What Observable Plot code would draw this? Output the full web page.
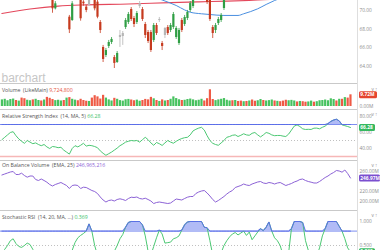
<!DOCTYPE html>
<html><head><meta charset="utf-8">
<script src="https://cdn.jsdelivr.net/npm/d3@7"></script>
<script src="https://cdn.jsdelivr.net/npm/@observablehq/plot@0.6"></script>
<style>
html,body{margin:0;padding:0;background:#fff;overflow:hidden;width:380px;height:250px;}
#wrap{position:relative;width:380px;height:250px;overflow:hidden;font-family:"Open Sans",sans-serif;}
.panel{position:absolute;left:0;}
.hline{position:absolute;left:0;width:357px;height:1px;background:#c9c9c9;}
.vline{position:absolute;left:357px;top:0;width:1px;height:250px;background:#dedede;}
</style></head><body><div id="wrap"></div>
<script>
// ---------- data ----------
const candleDay   = [18,19,24,25,28,29,30,31,33,34,35,36,37,38,39,40,41,42,43,44,45,46,47,48,49,50,51,52,53,54,55,56,57,58,59,60,61,62,63,64,65,66,67,68,73,74,75,76,77,78,79];
const candleOpen  = [71.30,70.22,69.31,68.95,71.30,70.94,70.40,70.58,71.40,70.94,68.74,66.03,65.16,66.14,66.57,64.94,64.40,67.11,67.54,68.19,68.74,70.14,69.17,68.74,70.47,70.14,68.52,67.65,67.65,66.79,68.41,69.06,66.46,68.09,68.19,67.87,68.19,67.11,66.46,68.95,68.52,69.17,70.04,70.47,71.30,71.40,68.19,67.87,68.63,68.95,70.25];
const candleHigh  = [71.50,71.00,69.50,71.00,71.50,71.10,70.60,71.50,71.60,71.20,68.95,66.25,65.92,66.79,67.11,65.16,65.59,67.87,67.76,69.17,69.82,70.36,69.39,69.93,71.01,70.36,68.74,67.87,67.87,68.63,68.63,69.28,66.68,68.19,68.41,68.63,69.82,68.30,68.09,69.17,69.50,70.04,71.01,71.50,71.50,71.60,68.41,68.63,69.28,69.71,71.50];
const candleLow   = [69.74,70.10,67.54,68.85,68.88,70.50,69.80,70.50,70.00,69.14,67.54,64.40,64.94,65.92,66.35,63.75,64.30,66.03,66.25,67.98,68.52,68.85,68.19,68.52,70.25,68.85,67.00,66.46,65.49,66.57,67.33,68.74,65.70,67.00,67.33,67.65,67.98,66.90,66.25,67.65,68.30,68.95,69.82,70.25,70.69,68.85,67.00,67.54,68.41,68.74,70.04];
const candleClose = [70.22,70.76,67.94,70.76,69.14,70.76,70.04,71.30,70.22,69.31,67.87,64.73,65.70,66.57,66.90,64.30,65.38,67.33,67.22,68.95,69.60,69.06,68.52,69.71,70.79,69.06,67.33,66.68,65.70,68.41,67.54,68.95,66.14,67.33,67.54,68.41,69.60,68.09,67.87,67.87,69.28,69.82,70.79,71.30,70.90,69.06,67.54,68.41,69.06,69.50,71.30];
const candleColor = ["r","g","r","g","r","r","r","n","r","r","r","r","g","g","g","r","g","n","n","g","g","r","r","g","n","r","r","r","r","g","r","n","r","n","r","g","g","g","g","r","g","g","g","g","r","r","r","g","g","g","g"];

const redMaDay = [0,10,20,30,45,60,70,80,88,100,124];
const redMaVal = [69.71,70.20,70.52,70.65,70.74,70.90,70.98,71.05,71.12,71.30,71.60];
const blueMaDay = [45,52,57,62,65,67,71,74,79,84,86,91,94,97,105,124];
const blueMaVal = [72.6,71.8,71.18,70.58,70.10,69.85,69.68,69.60,69.50,69.50,69.68,70.22,70.69,71.12,71.9,73.2];

const priceTicks = [64,66,68,70];

const volume = [5.5,6.0,4.8,5.8,6.2,5.0,4.5,7.0,6.5,5.2,4.8,5.5,6.0,5.0,4.6,5.4,7.6,6.8,5.8,4.9,5.2,4.6,5.0,7.0,7.4,6.0,5.3,4.8,6.0,5.0,4.4,4.2,7.0,9.0,8.0,6.2,9.3,7.0,5.5,4.6,6.8,6.0,4.9,4.5,5.6,5.9,5.4,4.8,5.3,4.4,5.0,5.9,5.5,7.6,6.4,5.0,4.2,5.5,4.6,5.0,6.0,8.0,6.6,5.6,5.0,5.2,5.8,6.2,5.5,4.8,5.2,6.0,4.6,6.5,13.9,5.8,4.9,5.5,6.0,6.6,5.2,4.6,4.8,5.0,4.2,4.5,4.0,4.2,4.6,5.4,4.4,4.8,5.8,5.0,4.6,4.9,5.4,4.6,4.3,4.0,4.5,5.2,4.8,5.1,4.6,3.8,4.2,4.0,3.6,3.8,4.5,3.6,4.0,4.8,5.0,5.4,4.8,6.4,5.8,4.6,6.0,6.0,7.4,7.0,9.7248];
const volColor = ["g","g","g","g","g","r","g","r","r","g","g","r","g","g","r","g","r","r","r","g","g","g","r","g","r","g","g","r","r","r","r","g","r","r","r","r","r","g","g","g","r","g","g","g","g","g","r","r","g","g","r","r","r","r","g","r","g","r","g","r","g","g","g","g","r","g","g","g","g","g","g","g","r","r","r","r","g","g","g","g","g","g","r","g","r","r","g","r","g","r","r","g","g","r","g","g","g","r","g","r","r","r","g","g","g","r","g","r","r","g","g","r","g","g","g","g","g","g","g","r","g","r","g","r","r"];

const rsi = [51,54,57,60,61,56,52,49,46.5,50,48,46,47,45,43.5,45,42,40,42.5,42,41,41.5,38,35.5,33,40,43.5,42,44,46.5,43,44,43.5,42.5,41,37,34,31.5,33.5,35.5,38,40.5,43.5,45.5,48,49,50,49.5,50,48,51,54,51,47,44,47.5,46,43.8,47,50,48,46.6,49,51,52.5,53.5,54,57,62,64,65.5,66.5,63,56,50,46.5,45,44,47,50,54,55,56.5,57,55,56.5,58.4,57,56.5,59,60,57,54.5,57,60,59,57,56,56.3,56.3,55.5,55,58,63,68,69.5,67.5,64.6,63.8,64,63.8,65.4,65.5,64.6,66.5,68,71,73.8,75.5,76.6,74.5,69.5,68.5,67.5,66.28];
const rsiTicks = [40,60,80];

const obv = [253,255,257,259,260,254,254,256.6,252,248.6,251,251,244,242,245,242,238.6,234,231,234,236,238,235,232,226,232,233,232,226,228.6,228,225,222,220,216,209,203,199,202,203,201,204,205.4,204,202,206,208.6,208,209,206,205,206.6,204,201,196,198,199,198,197,196,197,201,205,204,203,206,208.6,210,210,216,219,221,222,217,211,204,199,202,206,210,215,219,222,228,230,232,235,233,232,235,237,239,240,237,236,238,237,235,237,238,235,232,234,236,239,241,244,245,242,240,238.6,237,237,240,244,248,251,255,258,262,261,258.6,263,256,246.965216];
const obvTicks = [200,220,260];

const stoch = [0.35,0.42,0.5,0.6,0.64,0.54,0.48,0.46,0.5,0.55,0.52,0.42,0.3,0.22,0.15,0.1,0.05,0.02,0.0,0.05,0.08,0.05,0.1,0.2,0.3,0.4,0.56,0.66,0.71,0.75,0.8,0.95,0.8,0.5,0.3,0.15,0.05,0.0,0.1,0.25,0.38,0.5,0.64,0.73,0.88,0.98,1,1,1,1,0.93,0.7,0.38,0.3,0.48,0.66,0.82,0.74,0.55,0.56,0.57,0.64,0.66,0.7,0.82,0.93,0.99,1,1,1,1,1,0.88,0.87,0.6,0.3,0.2,0.25,0.35,0.5,0.6,0.68,0.74,0.77,0.72,0.76,0.8,0.71,0.78,0.62,0.7,0.78,0.85,0.81,0.88,0.99,0.8,0.66,0.6,0.5,0.3,0.2,0.35,0.85,1,1,1,0.98,0.6,0.4,0.25,0.2,0.28,0.45,0.7,0.85,1,1,1,1,0.9,0.8,0.64,0.45,0.369];
const stochTicks = [0.5,1.0];

// ---------- helpers ----------
const C = {green:"#2f9e44", red:"#c63a1e", gray:"#b5b5b5", vgreen:"#47c25f", vred:"#ef5a45",
  line:"#4cc873", band:"#7d8ef0", purple:"#8c62d6", axis:"#8c8c8c", title:"#555"};
const candleFill = {g:C.green, r:C.red, n:C.gray};
const volFill = {g:C.vgreen, r:C.vred};
const FONT = "'Open Sans', sans-serif";
const XDOM = [-0.5, 126.5];

const candles = candleDay.map((d,i)=>({day:d, open:candleOpen[i], high:candleHigh[i], low:candleLow[i], close:candleClose[i], c:candleColor[i]}));
const redMa = redMaDay.map((d,i)=>({day:d, v:redMaVal[i]}));
const blueMa = blueMaDay.map((d,i)=>({day:d, v:blueMaVal[i]}));
const vols = volume.map((v,i)=>({day:i, v, c:volColor[i]}));
const rsiData = rsi.map((v,i)=>({day:i, v}));
const obvData = obv.map((v,i)=>({day:i, v}));
const stochData = stoch.map((v,i)=>({day:i, v}));

function boxSymbol(w, h) {
  return {draw(ctx) {
    const r = 1.5, x0 = 0, x1 = w, y0 = -h/2, y1 = h/2;
    ctx.moveTo(x0 + r, y0); ctx.lineTo(x1 - r, y0); ctx.arcTo(x1, y0, x1, y0 + r, r);
    ctx.lineTo(x1, y1 - r); ctx.arcTo(x1, y1, x1 - r, y1, r);
    ctx.lineTo(x0 + r, y1); ctx.arcTo(x0, y1, x0, y1 - r, r);
    ctx.lineTo(x0, y0 + r); ctx.arcTo(x0, y0, x0 + r, y0, r); ctx.closePath();
  }};
}
function valueBox(value, label, color, w) {
  return [
    Plot.dot([value], {y: d => d, frameAnchor: "right", dx: 1.5, symbol: boxSymbol(w, 7), fill: color, stroke: "none", r: 3}),
    Plot.text([value], {y: d => d, frameAnchor: "right", dx: 2.8, text: () => label, textAnchor: "start", fill: "white", fontWeight: "bold", fontSize: 4.8})
  ];
}
function rightAxis(ticks, fmt) {
  return Plot.axisY({anchor: "right", ticks, tickSize: 0, tickPadding: 2, tickFormat: fmt, fill: C.axis, fontSize: 4.8});
}
function base(h, mt, mb, ydomain, marks) {
  return Plot.plot({
    width: 380, height: h, marginLeft: 0, marginRight: 23, marginTop: mt, marginBottom: mb,
    x: {domain: XDOM, axis: null}, y: {domain: ydomain, axis: null},
    style: {background: "transparent", fontFamily: FONT, fontSize: "5px", overflow: "visible"},
    marks
  });
}
function addTitle(svg, y, label, value, color) {
  const t = d3.select(svg).append("text").attr("x", 2).attr("y", y)
    .attr("text-anchor", "start").attr("font-size", 5.2).attr("font-family", FONT);
  t.append("tspan").attr("fill", C.title).text(label);
  t.append("tspan").attr("fill", color).text(" " + value);
}
function place(svg, top) {
  const div = document.createElement("div");
  div.className = "panel"; div.style.top = top + "px";
  div.appendChild(svg);
  document.getElementById("wrap").appendChild(div);
}
function hline(top) {
  const d = document.createElement("div"); d.className = "hline"; d.style.top = top + "px";
  document.getElementById("wrap").appendChild(d);
}

// ---------- price panel ----------
const price = base(84, 0, 1, [62.126, 71.12], [
  rightAxis(priceTicks, d => d.toFixed(2)),
  Plot.text(["barchart"], {frameAnchor: "bottom-left", dx: 1, dy: -2, fontSize: 12, fill: "#c6c6c6", fontFamily: "'Liberation Sans', sans-serif"}),
  Plot.line(redMa, {x: "day", y: "v", stroke: "#e4485c", strokeWidth: 1.2, clip: true, curve: "monotone-x"}),
  Plot.line(blueMa, {x: "day", y: "v", stroke: "#4a8fe0", strokeWidth: 1, clip: true, curve: "monotone-x"}),
  Plot.ruleX(candles, {x: "day", y1: "low", y2: "high", stroke: d => candleFill[d.c], strokeWidth: 0.8, clip: true}),
  Plot.ruleX(candles, {x: "day", y1: "open", y2: "close", stroke: d => candleFill[d.c], strokeWidth: 2.2, clip: true})
]);
place(price, 0);

// ---------- volume panel ----------
const lastVol = volume[volume.length - 1];
const volPlot = base(25, 0, 3, [0, 18.3], [
  Plot.ruleX(vols, {x: "day", y1: 0, y2: "v", stroke: d => volFill[d.c], strokeWidth: 2.2}),
  rightAxis([0], d => d.toFixed(2) + "M"),
  ...valueBox(lastVol, lastVol.toFixed(2) + "M", "#e5452f", 18)
]);
addTitle(volPlot, 7.5, "Volume  (LikeMain)", d3.format(",")(Math.round(lastVol * 1e6)), "#e5523c");
place(volPlot, 84);

// ---------- RSI panel ----------
const lastRsi = rsi[rsi.length - 1];
const rsiPlot = base(51, 7, 4, [30, 80], [
  Plot.areaY(rsiData, {x: "day", y1: 70, y2: d => Math.max(d.v, 70), fill: C.band, fillOpacity: 0.6}),
  Plot.ruleY([70], {stroke: C.band, strokeWidth: 1}),
  Plot.ruleY([50], {stroke: "#b0b0b0", strokeWidth: 0.8, strokeDasharray: "1,2"}),
  Plot.ruleY([30], {stroke: "#f6b7b7", strokeWidth: 1.6}),
  Plot.line(rsiData, {x: "day", y: "v", stroke: C.line, strokeWidth: 1}),
  Plot.line(rsiData, {x: "day", y: d => Math.max(d.v, 70), stroke: "#5b6ee8", strokeWidth: 1}),
  rightAxis(rsiTicks, d => d.toFixed(2)),
  ...valueBox(lastRsi, lastRsi.toFixed(2), "#35b860", 16)
]);
addTitle(rsiPlot, 8.5, "Relative Strength Index  (14, MA, 5)", lastRsi.toFixed(2), "#3cbf68");
place(rsiPlot, 109);

// ---------- OBV panel ----------
const lastObv = obv[obv.length - 1];
const obvPlot = base(50, 0, 0, [182, 282], [
  rightAxis(obvTicks, d => d.toFixed(2) + "M"),
  Plot.line(obvData, {x: "day", y: "v", stroke: C.purple, strokeWidth: 1}),
  ...valueBox(lastObv, lastObv.toFixed(2) + "M", "#7b4fcf", 21)
]);
addTitle(obvPlot, 6.5, "On Balance Volume  (EMA, 25)", d3.format(",")(Math.round(lastObv * 1e6)), "#8c62d6");
place(obvPlot, 160);

// ---------- Stochastic RSI panel ----------
const lastSt = stoch[stoch.length - 1];
const stPlot = base(59, 11, 0, [0, 1], [
  Plot.areaY(stochData, {x: "day", y1: 0.8, y2: d => Math.max(d.v, 0.8), fill: C.band, fillOpacity: 0.6}),
  Plot.ruleY([0.8], {stroke: C.band, strokeWidth: 1}),
  Plot.ruleY([0.5], {stroke: "#b0b0b0", strokeWidth: 0.8, strokeDasharray: "1,2"}),
  Plot.ruleY([0.2], {stroke: "#f6b7b7", strokeWidth: 1.6}),
  Plot.line(stochData, {x: "day", y: "v", stroke: C.line, strokeWidth: 1}),
  Plot.line(stochData, {x: "day", y: d => Math.max(d.v, 0.8), stroke: "#5b6ee8", strokeWidth: 1}),
  rightAxis(stochTicks, d => d.toFixed(3)),
  ...valueBox(lastSt, lastSt.toFixed(3), "#35b860", 16)
]);
addTitle(stPlot, 8.5, "Stochastic RSI  (14, 20, MA, ...)", lastSt.toFixed(3), "#3cbf68");
place(stPlot, 210);

// ---------- separators ----------
[83, 109, 160, 210].forEach(hline);
const v = document.createElement("div"); v.className = "vline";
document.getElementById("wrap").appendChild(v);
</script></body></html>
